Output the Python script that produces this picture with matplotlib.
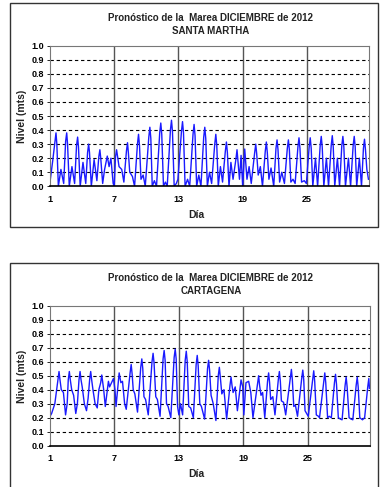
import matplotlib
matplotlib.use("Agg")
import matplotlib.pyplot as plt
from matplotlib.patches import Rectangle

plt.rcParams['font.family'] = ['Liberation Sans', 'DejaVu Sans']

title_line = "Pronóstico de la  Marea DICIEMBRE de 2012"
stations = ["SANTA MARTHA", "CARTAGENA"]
x_ticks = [1, 7, 13, 19, 25]
y_ticks = [0.0, 0.1, 0.2, 0.3, 0.4, 0.5, 0.6, 0.7, 0.8, 0.9, 1.0]
x_label = "Día"
y_label = "Nivel (mts)"

# Santa Marta: (day, level in m)
sm_points = [
    (1.00, 0.03), (1.25, 0.18), (1.46, 0.32), (1.56, 0.38), (1.64, 0.30), (1.78, 0.00),
    (2.02, 0.12), (2.28, 0.02), (2.46, 0.32), (2.56, 0.38), (2.64, 0.30), (2.80, 0.00),
    (3.05, 0.14), (3.30, 0.02), (3.48, 0.29), (3.58, 0.35), (3.66, 0.28), (3.82, 0.00),
    (4.08, 0.17), (4.34, 0.02), (4.51, 0.24), (4.61, 0.30), (4.69, 0.24), (4.86, 0.00),
    (5.12, 0.19), (5.38, 0.04), (5.56, 0.21), (5.66, 0.26), (5.74, 0.20), (5.92, 0.02),
    (6.10, 0.12), (6.35, 0.215), (6.52, 0.14), (6.69, 0.20), (6.90, 0.02), (7.00, 0.00),
    (7.12, 0.21), (7.22, 0.26), (7.45, 0.14), (7.70, 0.12), (7.90, 0.03),
    (8.14, 0.25), (8.24, 0.31), (8.32, 0.24), (8.45, 0.10), (8.70, 0.07), (8.90, 0.00),
    (9.17, 0.30), (9.27, 0.37), (9.36, 0.29), (9.50, 0.05), (9.70, 0.08), (9.90, 0.00),
    (10.23, 0.35), (10.33, 0.42), (10.42, 0.34), (10.55, 0.00), (10.75, 0.04), (10.95, 0.00),
    (11.25, 0.38), (11.35, 0.45), (11.44, 0.37), (11.60, 0.00), (11.78, 0.03), (11.95, 0.00),
    (12.25, 0.40), (12.35, 0.47), (12.44, 0.39), (12.60, 0.00), (12.80, 0.02), (12.95, 0.05),
    (13.28, 0.39), (13.38, 0.46), (13.47, 0.38), (13.62, 0.00), (13.85, 0.05), (14.05, 0.00),
    (14.36, 0.37), (14.46, 0.44), (14.55, 0.36), (14.70, 0.00), (14.90, 0.08), (15.10, 0.00),
    (15.36, 0.35), (15.46, 0.42), (15.55, 0.34), (15.70, 0.00), (15.90, 0.10), (16.10, 0.02),
    (16.39, 0.30), (16.49, 0.37), (16.58, 0.29), (16.72, 0.00), (16.92, 0.14), (17.12, 0.03),
    (17.38, 0.25), (17.48, 0.315), (17.57, 0.24), (17.72, 0.00), (17.90, 0.17), (18.10, 0.05),
    (18.38, 0.20), (18.47, 0.26), (18.70, 0.05), (18.85, 0.22), (19.00, 0.00),
    (19.19, 0.265), (19.40, 0.05), (19.60, 0.14), (19.80, 0.02),
    (20.12, 0.24), (20.22, 0.30), (20.31, 0.23), (20.45, 0.08), (20.65, 0.14), (20.85, 0.00),
    (21.11, 0.25), (21.21, 0.315), (21.30, 0.24), (21.45, 0.05), (21.65, 0.13), (21.90, 0.00),
    (22.11, 0.27), (22.21, 0.33), (22.30, 0.26), (22.45, 0.03), (22.65, 0.10), (22.90, 0.02),
    (23.17, 0.27), (23.27, 0.33), (23.36, 0.26), (23.50, 0.03), (23.70, 0.05), (23.90, 0.02),
    (24.16, 0.28), (24.26, 0.345), (24.35, 0.27), (24.50, 0.03), (24.75, 0.04), (24.95, 0.02),
    (25.21, 0.28), (25.31, 0.345), (25.40, 0.27), (25.55, 0.00), (25.80, 0.20), (26.00, 0.00),
    (26.24, 0.29), (26.34, 0.355), (26.43, 0.28), (26.58, 0.00), (26.82, 0.20), (27.02, 0.00),
    (27.27, 0.29), (27.37, 0.36), (27.46, 0.28), (27.60, 0.00), (27.85, 0.20), (28.05, 0.00),
    (28.26, 0.29), (28.36, 0.355), (28.45, 0.28), (28.60, 0.00), (28.88, 0.20), (29.08, 0.00),
    (29.32, 0.29), (29.42, 0.355), (29.51, 0.28), (29.65, 0.00), (29.90, 0.20), (30.10, 0.00),
    (30.28, 0.27), (30.38, 0.335), (30.47, 0.26), (30.60, 0.12), (30.75, 0.05),
]

# Cartagena: (day, level in m)
ct_points = [
    (1.00, 0.21), (1.15, 0.23), (1.45, 0.30), (1.74, 0.47), (1.84, 0.53), (1.93, 0.47),
    (2.05, 0.40), (2.25, 0.38), (2.45, 0.22), (2.60, 0.30), (2.70, 0.47), (2.80, 0.53),
    (2.89, 0.47), (3.02, 0.40), (3.20, 0.36), (3.40, 0.23), (3.55, 0.30), (3.70, 0.47),
    (3.80, 0.53), (3.89, 0.47), (4.00, 0.42), (4.20, 0.30), (4.40, 0.25), (4.55, 0.34),
    (4.69, 0.47), (4.79, 0.53), (4.88, 0.47), (5.00, 0.40), (5.20, 0.30), (5.40, 0.27),
    (5.55, 0.40), (5.72, 0.45), (5.82, 0.505), (5.91, 0.45), (6.00, 0.40), (6.15, 0.28),
    (6.44, 0.46), (6.55, 0.42), (6.91, 0.48), (7.05, 0.40), (7.15, 0.28), (7.44, 0.52),
    (7.60, 0.45), (7.75, 0.46), (7.95, 0.30), (8.10, 0.26), (8.46, 0.52), (8.56, 0.58),
    (8.65, 0.51), (8.75, 0.40), (8.90, 0.37), (9.15, 0.24), (9.45, 0.56), (9.55, 0.62),
    (9.64, 0.55), (9.75, 0.35), (9.90, 0.33), (10.15, 0.22), (10.50, 0.60), (10.60, 0.66),
    (10.69, 0.59), (10.85, 0.35), (11.00, 0.33), (11.25, 0.21), (11.53, 0.62), (11.63, 0.68),
    (11.72, 0.61), (11.85, 0.30), (12.00, 0.28), (12.25, 0.20), (12.56, 0.63), (12.66, 0.69),
    (12.75, 0.62), (12.88, 0.28), (13.00, 0.22), (13.15, 0.30), (13.35, 0.22), (13.59, 0.61),
    (13.69, 0.675), (13.78, 0.60), (13.92, 0.28), (14.10, 0.27), (14.35, 0.20), (14.61, 0.58),
    (14.71, 0.645), (14.80, 0.57), (14.95, 0.30), (15.10, 0.28), (15.40, 0.19), (15.67, 0.55),
    (15.77, 0.61), (15.86, 0.54), (16.00, 0.36), (16.20, 0.30), (16.45, 0.18), (16.67, 0.50),
    (16.77, 0.56), (16.86, 0.49), (17.00, 0.37), (17.20, 0.40), (17.45, 0.19), (17.76, 0.43),
    (17.86, 0.49), (17.95, 0.43), (18.05, 0.38), (18.25, 0.42), (18.45, 0.25), (18.79, 0.47),
    (18.95, 0.42), (19.05, 0.22), (19.25, 0.45), (19.50, 0.46), (19.70, 0.38), (19.90, 0.20),
    (20.33, 0.44), (20.43, 0.50), (20.52, 0.43), (20.65, 0.36), (20.80, 0.38), (21.00, 0.20),
    (21.26, 0.46), (21.36, 0.52), (21.45, 0.45), (21.55, 0.33), (21.75, 0.35), (21.95, 0.22),
    (22.26, 0.47), (22.36, 0.53), (22.45, 0.46), (22.55, 0.32), (22.75, 0.31), (22.95, 0.22),
    (23.38, 0.48), (23.48, 0.545), (23.57, 0.47), (23.70, 0.28), (23.85, 0.29), (24.05, 0.21),
    (24.44, 0.48), (24.54, 0.54), (24.63, 0.47), (24.75, 0.25), (24.90, 0.23), (25.05, 0.21),
    (25.46, 0.47), (25.56, 0.535), (25.65, 0.46), (25.80, 0.22), (26.00, 0.21), (26.10, 0.20),
    (26.49, 0.46), (26.59, 0.52), (26.68, 0.45), (26.85, 0.20), (27.00, 0.21), (27.20, 0.20),
    (27.49, 0.45), (27.59, 0.51), (27.68, 0.44), (27.85, 0.20), (28.05, 0.19), (28.20, 0.185),
    (28.48, 0.43), (28.58, 0.49), (28.67, 0.42), (28.85, 0.20), (29.05, 0.19), (29.20, 0.185),
    (29.51, 0.43), (29.61, 0.49), (29.70, 0.42), (29.85, 0.20), (30.10, 0.185), (30.30, 0.20),
    (30.59, 0.42), (30.69, 0.48), (30.75, 0.41),
]

sm_day = [p[0] for p in sm_points]
sm_level = [p[1] for p in sm_points]
ct_day = [p[0] for p in ct_points]
ct_level = [p[1] for p in ct_points]

W, H = 381, 487
fig = plt.figure(figsize=(W / 100, H / 100), dpi=100)
fig.patch.set_facecolor('white')

panels = [
    dict(day=sm_day, level=sm_level, name=stations[0],
         box=(10, 3, 368, 224), ax=(50, 45.7, 319, 140.6), t1=18, t2=31,
         xl=215, yl=116),
    dict(day=ct_day, level=ct_level, name=stations[1],
         box=(10, 263, 368, 230), ax=(50, 305.7, 320, 140.0), t1=278, t2=291,
         xl=474, yl=376),
]

for p in panels:
    bx, by, bw, bh = p['box']
    fig.patches.append(Rectangle((bx / W, 1 - (by + bh) / H), bw / W, bh / H,
                                 transform=fig.transFigure, fill=False,
                                 edgecolor='#333333', linewidth=1.0))
    axl, axt, axw, axh = p['ax']
    ax = fig.add_axes([axl / W, 1 - (axt + axh) / H, axw / W, axh / H])
    ax.plot(p['day'], p['level'], color='#1a1aff', linewidth=1.0)
    ax.set_xlim(1, 30.8)
    ax.set_ylim(0, 1.0)
    ax.set_xticks(x_ticks)
    ax.set_yticks(y_ticks)
    ax.set_xticklabels([str(t) for t in x_ticks], fontsize=6.5, fontweight='bold')
    ax.set_yticklabels([f"{t:.1f}" for t in y_ticks], fontsize=6.5, fontweight='bold')
    ax.tick_params(axis='x', length=0, pad=6)
    ax.tick_params(axis='y', length=2, pad=2, width=0.6)
    for yv in y_ticks[1:-1]:
        ax.axhline(yv, color='black', linestyle=(0, (3, 2.5)), linewidth=0.8, zorder=1)
    for xv in x_ticks[1:]:
        ax.axvline(xv, color='#555555', linestyle='-', linewidth=1.0, zorder=1)
    for s in ['top', 'right', 'left']:
        ax.spines[s].set_color('#777777')
        ax.spines[s].set_linewidth(0.8)
    ax.spines['bottom'].set_color('black')
    ax.spines['bottom'].set_linewidth(1.2)
    fig.text(211 / W, 1 - p['t1'] / H, title_line, ha='center', va='center',
             fontsize=7, fontweight='bold', color='#222222')
    fig.text(211 / W, 1 - p['t2'] / H, p['name'], ha='center', va='center',
             fontsize=7, fontweight='bold', color='#222222')
    fig.text(196 / W, 1 - p['xl'] / H, x_label, ha='center', va='center',
             fontsize=7.5, fontweight='bold', color='#222222')
    fig.text(22 / W, 1 - p['yl'] / H, y_label, ha='center', va='center',
             rotation=90, fontsize=7.5, fontweight='bold', color='#222222')

fig.savefig('out.png', dpi=100)
